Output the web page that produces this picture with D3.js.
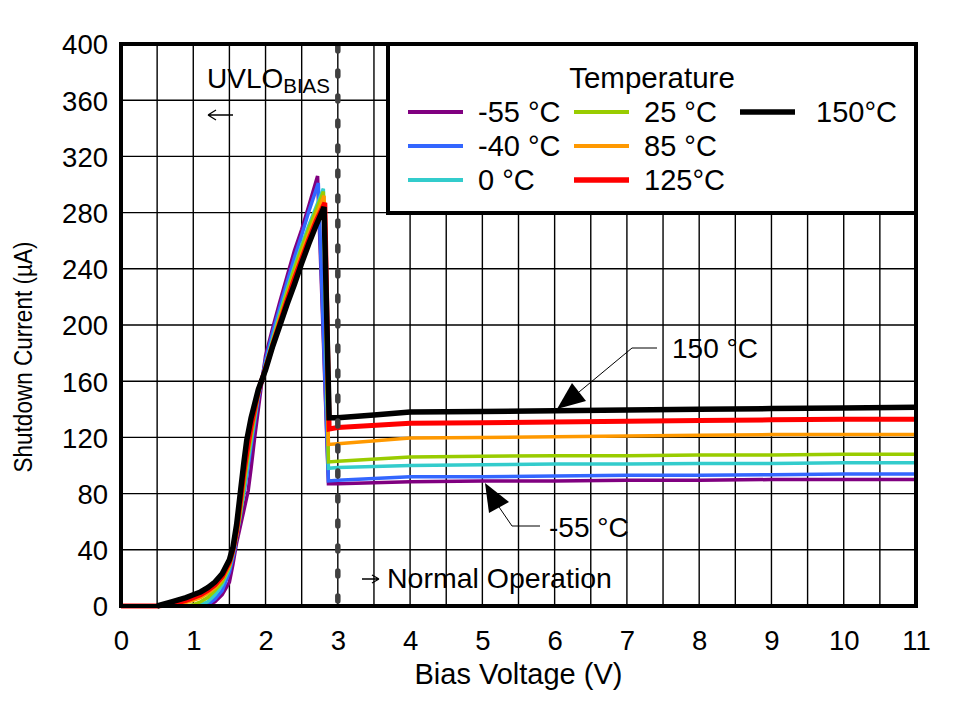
<!DOCTYPE html>
<html><head><meta charset="utf-8">
<script src="https://cdn.jsdelivr.net/npm/d3@7"></script>
<style>
html,body{margin:0;padding:0;background:#fff;}
svg{display:block;font-family:"Liberation Sans",Arial,sans-serif;}
</style></head>
<body><svg id="c" width="956" height="701"></svg>
<script>
// ---- data ----
const xTickLabels = [0,1,2,3,4,5,6,7,8,9,10,11];
const yTickLabels = [0,40,80,120,160,200,240,280,320,360,400];
const legendLabels = ["-55 °C","-40 °C","0 °C","25 °C","85 °C","125°C","150°C"];
const seriesColors = ["#800080","#3366FF","#33CCCC","#99CC00","#FF9900","#FF0000","#000000"];

const tM55 = [[0,0],[1.1,0],[1.2,0.5],[1.3,3],[1.4,8],[1.5,17],[1.55,30],[1.6,45],[1.7,68],[1.76,82],[1.8,98],[1.85,120],[1.9,140],[1.95,160],[2.0,178],[2.1,198],[2.2,217],[2.3,235],[2.4,253],[2.5,268],[2.6,285],[2.72,306],[2.87,87],[3,87],[4,88.5],[5,89],[6,89],[7,89.5],[8,89.5],[9,90],[10,90],[11,90]];
const tM40 = [[0,0],[1.1,0],[1.2,1],[1.3,5],[1.4,11],[1.5,24],[1.55,35],[1.58,42],[1.6,60],[1.65,68],[1.7,80],[1.75,96],[1.8,114],[1.9,148],[2.0,175],[2.1,195],[2.2,213],[2.3,231],[2.4,248],[2.5,264],[2.6,281],[2.73,301],[2.87,89],[3,89.5],[4,92],[5,92],[6,92.5],[7,93],[8,93],[9,93.5],[10,94],[11,94]];
const t0 = [[0,0],[1.0,0],[1.1,1],[1.2,3],[1.3,8],[1.4,15],[1.5,27],[1.55,37],[1.6,50],[1.65,64],[1.7,82],[1.75,100],[1.8,118],[1.9,150],[2.0,172],[2.1,191],[2.2,209],[2.3,226],[2.4,242],[2.5,257],[2.6,271],[2.7,284],[2.8,297],[2.87,98],[3,98.5],[4,100],[5,100.5],[6,101],[7,101],[8,101.5],[9,101.5],[10,102],[11,102]];
const t25 = [[0,0],[0.9,0],[1.0,1],[1.1,3],[1.2,6],[1.3,11],[1.4,17],[1.5,28],[1.55,38],[1.6,50],[1.65,66],[1.7,85],[1.75,104],[1.8,120],[1.9,151],[2.0,171],[2.1,189],[2.2,207],[2.3,224],[2.4,240],[2.5,255],[2.6,269],[2.7,282],[2.8,295],[2.87,102.5],[3,103],[4,106],[5,106.5],[6,107],[7,107],[8,107.5],[9,107.5],[10,108],[11,108]];
const t85 = [[0,0],[0.6,0],[0.8,1],[1.0,4],[1.1,6],[1.2,9],[1.3,13],[1.4,19],[1.5,29],[1.55,39],[1.6,52],[1.65,70],[1.7,90],[1.75,108],[1.8,124],[1.9,152],[2.0,170],[2.1,188],[2.2,205],[2.3,221],[2.4,236],[2.5,251],[2.6,265],[2.7,278],[2.81,292],[2.87,115],[3,115.5],[4,119.5],[5,120],[6,120.5],[7,121],[8,121.5],[9,122],[10,122],[11,122]];
const t125 = [[0,0],[0.5,0],[0.7,1],[0.9,4],[1.0,6],[1.1,8],[1.2,11],[1.3,15],[1.4,21],[1.5,31],[1.55,40],[1.6,54],[1.65,74],[1.7,95],[1.75,112],[1.8,128],[1.9,153],[2.0,169],[2.1,186],[2.2,202],[2.3,218],[2.4,233],[2.5,247],[2.6,261],[2.7,274],[2.82,287],[2.88,126],[3,127],[4,130],[5,130.5],[6,131],[7,131.5],[8,132],[9,132.5],[10,133],[11,133]];
const t150 = [[0.5,0],[0.7,3],[0.9,6],[1.0,8],[1.1,10],[1.2,13],[1.3,17],[1.4,23],[1.5,33],[1.55,42],[1.6,58],[1.65,80],[1.7,102],[1.74,118],[1.8,134],[1.9,154],[2.0,168],[2.1,185],[2.2,200],[2.3,215],[2.4,229],[2.5,244],[2.6,258],[2.7,271],[2.81,284],[2.88,134],[3,134],[3.5,136],[4,138],[5,138.5],[6,139],[7,139.5],[8,140],[9,140.5],[10,141],[11,141.5]];
const allSeries = [tM55,tM40,t0,t25,t85,t125,t150];
const seriesWidths = [3.5,3.5,3.5,3.5,3.5,5,5.5];

// ---- layout ----
const svg = d3.select("#c");
const L=121,R=916,T=44,B=606;
const x = d3.scaleLinear().domain([0,11]).range([L,R]);
const y = d3.scaleLinear().domain([0,400]).range([B,T]);
const FONT = "'Liberation Sans',Arial,sans-serif";

// grid
const xGrid = d3.range(0,11.01,0.5);
const yGrid = yTickLabels;
svg.append("g").selectAll("line").data(xGrid).join("line")
  .attr("x1",d=>x(d)).attr("x2",d=>x(d)).attr("y1",T).attr("y2",B)
  .attr("stroke","#000").attr("stroke-width",1.4);
svg.append("g").selectAll("line").data(yGrid).join("line")
  .attr("x1",L).attr("x2",R).attr("y1",d=>y(d)).attr("y2",d=>y(d))
  .attr("stroke","#000").attr("stroke-width",1.4);

// curves
const line = d3.line().x(d=>x(d[0])).y(d=>y(d[1]));
svg.append("g").selectAll("path").data(allSeries).join("path")
  .attr("d",line).attr("fill","none")
  .attr("stroke",(d,i)=>seriesColors[i]).attr("stroke-width",(d,i)=>seriesWidths[i])
  .attr("stroke-linejoin","miter").attr("stroke-miterlimit",3);

// dashed UVLO line
svg.append("line").attr("x1",x(3)).attr("x2",x(3)).attr("y1",T+2).attr("y2",B)
  .attr("stroke","#404040").attr("stroke-width",5.5)
  .attr("stroke-dasharray","5,20").attr("stroke-linecap","round");

// legend box
const lg = svg.append("g");
lg.append("rect").attr("x",388).attr("y",44).attr("width",528).attr("height",169)
  .attr("fill","#fff").attr("stroke","#000").attr("stroke-width",4);
lg.append("text").attr("x",652).attr("y",88).attr("text-anchor","middle")
  .attr("font-size",29.5).attr("font-family",FONT).text("Temperature");
const legPos = [[408,112],[408,146],[408,180],[574,112],[574,146],[574,180],[740,112]];
legendLabels.forEach((lab,i)=>{
  const [lx,ly]=legPos[i];
  lg.append("line").attr("x1",lx).attr("x2",lx+55).attr("y1",ly).attr("y2",ly)
    .attr("stroke",seriesColors[i]).attr("stroke-width",i>=5?5.5:4);
  lg.append("text").attr("x",lx+70+(i==6?6:0)).attr("y",ly+10).attr("font-size",29)
    .attr("font-family",FONT).text(lab);
});

// frame
svg.append("rect").attr("x",L).attr("y",T).attr("width",R-L).attr("height",B-T)
  .attr("fill","none").attr("stroke","#000").attr("stroke-width",4);

// axes labels
const xAxis = d3.axisBottom(x).tickValues(xTickLabels).tickSize(0).tickPadding(0).tickFormat(d3.format("d"));
const gx = svg.append("g").attr("transform",`translate(0,${B})`).call(xAxis);
gx.select(".domain").remove();
gx.selectAll("text").attr("font-size",27.5).attr("font-family",FONT).attr("fill","#000")
  .attr("dy",null).attr("y",44);
const yAxis = d3.axisLeft(y).tickValues(yTickLabels).tickSize(0).tickPadding(13).tickFormat(d3.format("d"));
const gy = svg.append("g").attr("transform",`translate(${L},0)`).call(yAxis);
gy.select(".domain").remove();
gy.selectAll("text").attr("font-size",27.5).attr("font-family",FONT).attr("fill","#000")
  .attr("dy","0.36em");

svg.append("text").attr("x",(L+R)/2).attr("y",684).attr("text-anchor","middle")
  .attr("font-size",29).attr("font-family",FONT).text("Bias Voltage (V)");
svg.append("text").attr("transform","translate(32,357) rotate(-90)").attr("text-anchor","middle")
  .attr("font-size",25.5).attr("font-family",FONT)
  .attr("textLength",231).attr("lengthAdjust","spacingAndGlyphs")
  .text("Shutdown Current (µA)");

// annotations
const uv = svg.append("text").attr("x",207).attr("y",88).attr("font-size",28).attr("font-family",FONT);
uv.append("tspan").text("UVLO");
uv.append("tspan").attr("font-size",20.5).attr("dy",5).text("BIAS");
svg.append("path").attr("d","M208,115 L233,115 M208,115 L216,110 M208,115 L216,120")
  .attr("stroke","#000").attr("stroke-width",1.3).attr("fill","none");
svg.append("path").attr("d","M362,579 L379,579 M379,579 L372,575 M379,579 L372,583")
  .attr("stroke","#000").attr("stroke-width",1.3).attr("fill","none");
svg.append("text").attr("x",387).attr("y",588).attr("font-size",28.5).attr("font-family",FONT).text("Normal Operation");

svg.append("text").attr("x",672).attr("y",358).attr("font-size",28).attr("font-family",FONT).text("150 °C");
svg.append("path").attr("d","M657,348 L632,348 L579,392").attr("stroke","#000").attr("stroke-width",1).attr("fill","none");
svg.append("path").attr("d","M557,409 L572,383 L586,401 Z").attr("fill","#000");

svg.append("text").attr("x",549).attr("y",537).attr("font-size",28).attr("font-family",FONT).text("-55 °C");
svg.append("path").attr("d","M540,526 L512,526 L499,507").attr("stroke","#000").attr("stroke-width",1).attr("fill","none");
svg.append("path").attr("d","M485,483 L489,513 L509,502 Z").attr("fill","#000");
</script></body></html>
